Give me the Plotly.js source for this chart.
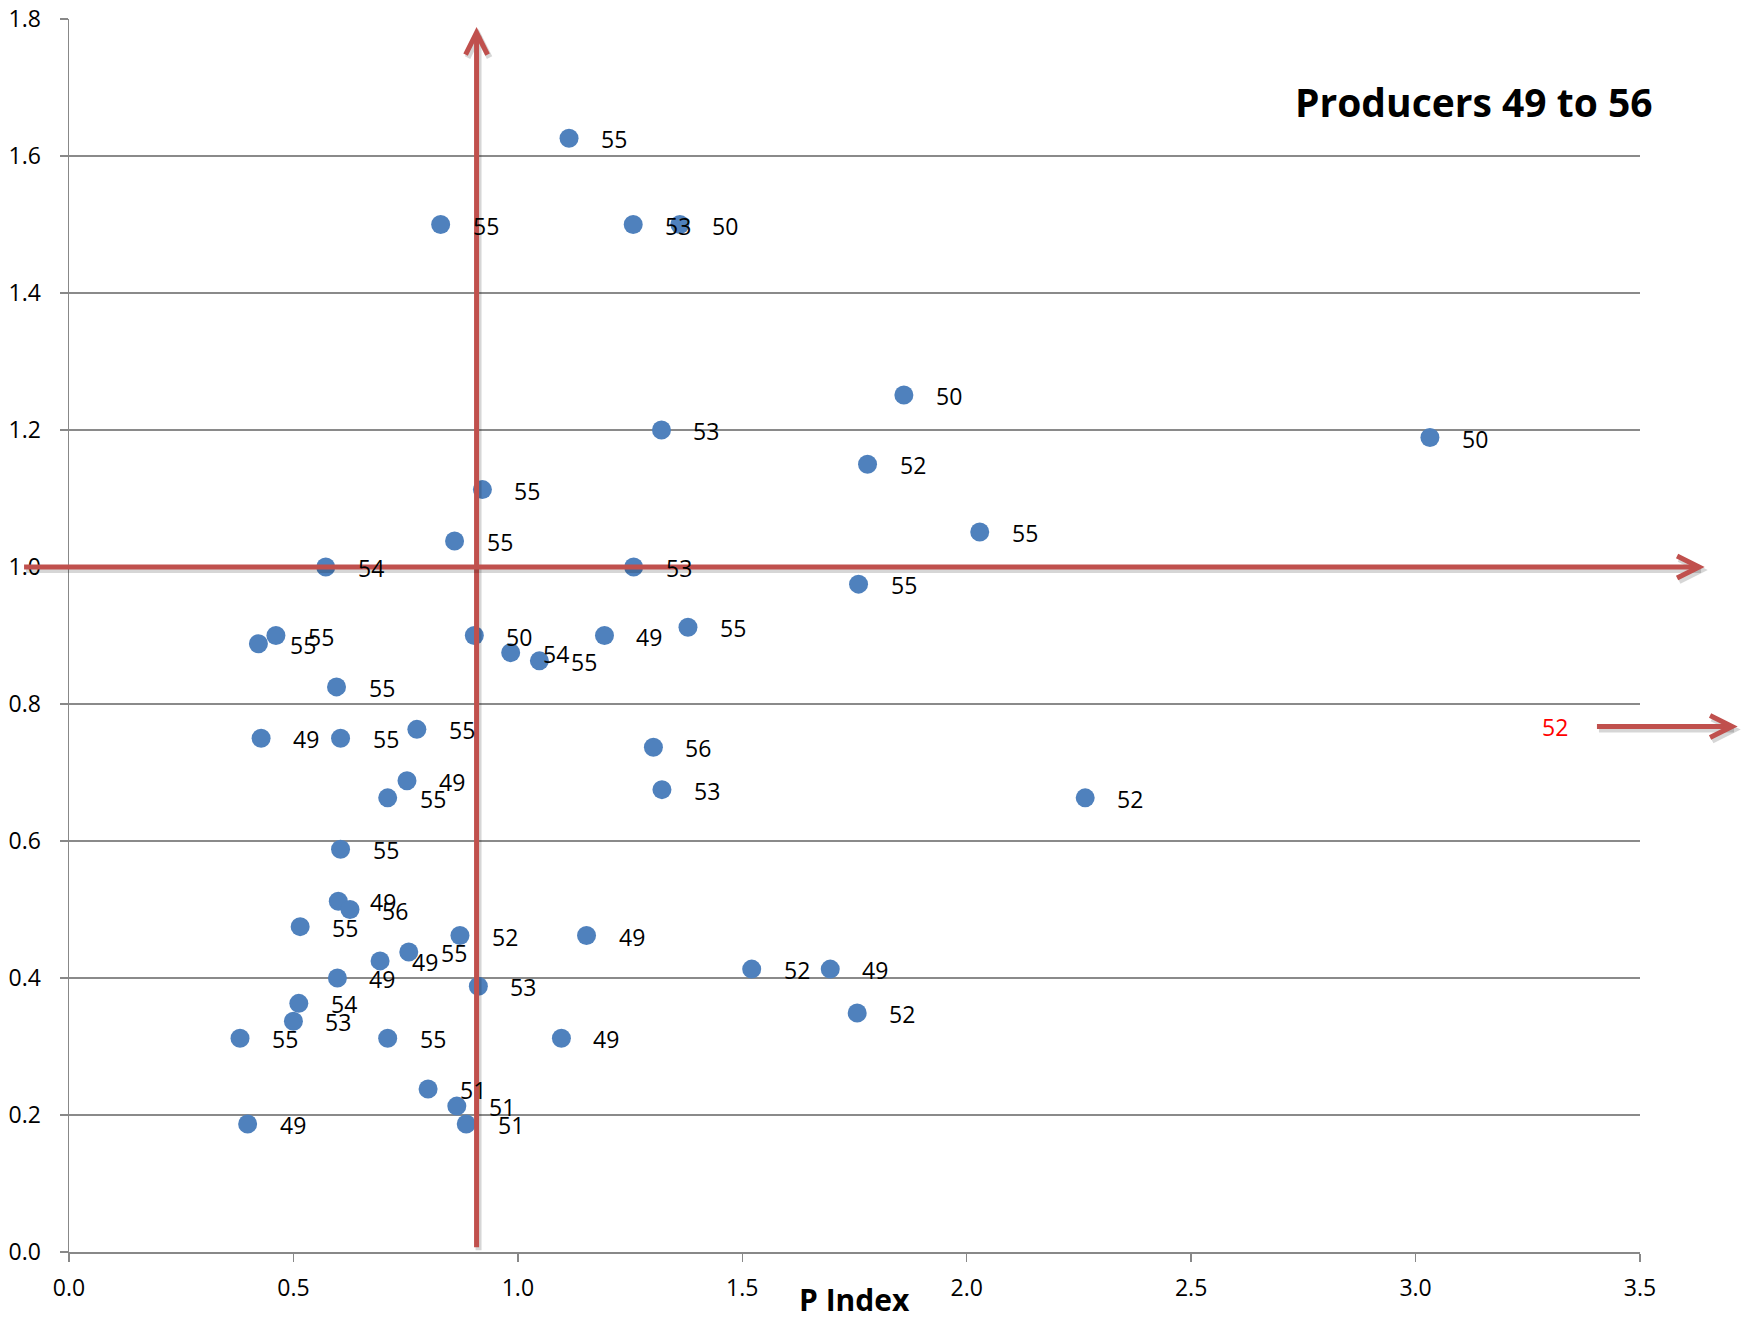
<!DOCTYPE html>
<html>
<head>
<meta charset="utf-8">
<script src="https://cdn.plot.ly/plotly-3.0.1.min.js"></script>
<style>html,body{margin:0;padding:0;background:#fff;}#chart{width:1744px;height:1322px;}</style>
</head>
<body>
<div id="chart"></div>
<script>
// ---- data ----
const pIndex = [1.114, 0.828, 1.257, 1.361, 1.860, 1.320, 3.032, 1.779, 0.921, 2.029,
  0.859, 0.572, 1.258, 1.759, 0.422, 0.461, 0.903, 1.193, 1.379, 0.984,
  1.048, 0.596, 0.428, 0.605, 0.775, 1.302, 0.753, 0.710, 1.321, 2.264,
  0.605, 0.600, 0.626, 0.515, 0.871, 1.153, 0.757, 0.693, 0.598, 0.912,
  1.521, 1.696, 0.512, 0.500, 0.381, 0.710, 1.097, 1.756, 0.800, 0.864,
  0.885, 0.398];
const yValue = [1.626, 1.500, 1.500, 1.500, 1.251, 1.200, 1.189, 1.150, 1.113, 1.051,
  1.038, 1.000, 1.000, 0.975, 0.888, 0.900, 0.900, 0.900, 0.912, 0.875,
  0.863, 0.825, 0.750, 0.750, 0.763, 0.737, 0.688, 0.663, 0.675, 0.663,
  0.588, 0.512, 0.500, 0.475, 0.462, 0.462, 0.438, 0.425, 0.400, 0.388,
  0.413, 0.413, 0.363, 0.337, 0.312, 0.312, 0.312, 0.349, 0.238, 0.213,
  0.187, 0.187];
const producer = ["55", "55", "53", "50", "50", "53", "50", "52", "55", "55",
  "55", "54", "53", "55", "55", "55", "50", "49", "55", "54",
  "55", "55", "49", "55", "55", "56", "49", "55", "53", "52",
  "55", "49", "56", "55", "52", "49", "55", "49", "49", "53",
  "52", "49", "54", "53", "55", "55", "49", "52", "51", "51",
  "51", "49"];
const xTickVals = [0, 0.5, 1.0, 1.5, 2.0, 2.5, 3.0, 3.5];
const yTickVals = [0, 0.2, 0.4, 0.6, 0.8, 1.0, 1.2, 1.4, 1.6, 1.8];
const chartTitle = "Producers 49 to 56";
const xTitle = "P Index";
// reference lines (arrows)
const refP = 0.908;      // vertical arrow at this P Index
const refY = 1.0;        // horizontal arrow at this value
const vArrowFrom = 0.007, vArrowTo = 1.78;
const offChartLabel = "52";  // point beyond the x range
const offChartY = 0.767;

// ---- layout helpers ----
const xRange = [0, 3.5], yRange = [0, 1.8];
const px = v => (v - xRange[0]) / (xRange[1] - xRange[0]);
const py = v => (v - yRange[0]) / (yRange[1] - yRange[0]);
const RED = '#C0504D', SHADOW = 'rgba(0,0,0,0.16)';
const plotW = 1571, plotH = 1233;
const dxp = 2 / plotW, dyp = -3 / plotH;
const FONT = 'Open Sans, Liberation Sans, sans-serif';

function arrow(x0, y0, x1, y1, dir) {
  // shaft + chevron head in paper coords, with a soft shadow
  const head = dir === 'up' ? 'M -11,-22 L 0,0 L 11,-22' : 'M -22,-11 L 0,0 L -22,11';
  const out = [];
  [[SHADOW, dxp, dyp, 6], [RED, 0, 0, 5]].forEach(([c, ox, oy, w]) => {
    out.push({type: 'line', xref: 'paper', yref: 'paper', x0: x0 + ox, y0: y0 + oy, x1: x1 + ox, y1: y1 + oy,
      line: {color: c, width: w}, layer: 'above'});
    out.push({type: 'path', xref: 'paper', yref: 'paper', xsizemode: 'pixel', ysizemode: 'pixel',
      xanchor: x1 + ox, yanchor: y1 + oy, path: head, line: {color: c, width: w}, layer: 'above'});
  });
  return out;
}

const shapes = [].concat(
  arrow(px(refP), py(vArrowFrom), px(refP), py(vArrowTo), 'up'),
  arrow(-0.0286, py(refY), 1.0376, py(refY), 'right'),
  arrow(0.9726, py(offChartY), 1.0586, py(offChartY), 'right')
);

const annotations = pIndex.map((x, i) => ({
  x: x, y: yValue[i], xref: 'x', yref: 'y', text: producer[i], showarrow: false,
  xanchor: 'center', yanchor: 'middle', xshift: 45, yshift: -1,
  font: {family: FONT, size: 23, color: '#000'}
}));
annotations.push({xref: 'paper', yref: 'paper', x: 1.0095, y: 0.933, xanchor: 'right', yanchor: 'middle',
  text: '<b>' + chartTitle + '</b>', showarrow: false, font: {family: FONT, size: 39, color: '#000'}});
annotations.push({xref: 'paper', yref: 'paper', x: 0.5003, y: -0.0385, xanchor: 'center', yanchor: 'middle',
  text: '<b>' + xTitle + '</b>', showarrow: false, font: {family: FONT, size: 30, color: '#000'}});
annotations.push({xref: 'paper', yref: 'y', x: 0.946, y: offChartY, xanchor: 'center', yanchor: 'middle',
  text: offChartLabel, showarrow: false, font: {family: FONT, size: 23, color: '#FF0000'}});

const trace = {
  type: 'scatter', mode: 'markers', x: pIndex, y: yValue, text: producer,
  marker: {color: '#4F81BD', size: 19}, hoverinfo: 'x+y+text', cliponaxis: false
};

const layout = {
  width: 1744, height: 1322,
  margin: {l: 69, r: 104, t: 19, b: 70, pad: 0},
  paper_bgcolor: '#fff', plot_bgcolor: '#fff',
  showlegend: false,
  font: {family: FONT, size: 23, color: '#000'},
  xaxis: {range: xRange, tickvals: xTickVals, tickformat: '.1f', showgrid: false, zeroline: false,
    showline: true, linecolor: '#888', linewidth: 1.5, ticks: 'outside', ticklen: 8, tickcolor: '#888', tickwidth: 1.5,
    ticklabelstandoff: 7, tickfont: {family: FONT, size: 23, color: '#000'}},
  yaxis: {range: yRange, tickvals: yTickVals, tickformat: '.1f', showgrid: true, gridcolor: '#8a8a8a', gridwidth: 1.5,
    zeroline: false, showline: true, linecolor: '#888', linewidth: 1.5, ticks: 'outside', ticklen: 8,
    tickcolor: '#888', tickwidth: 1.5, ticklabelstandoff: 14, tickfont: {family: FONT, size: 23, color: '#000'}},
  shapes: shapes,
  annotations: annotations
};

Plotly.newPlot('chart', [trace], layout, {displayModeBar: false, staticPlot: true});
</script>
</body>
</html>
